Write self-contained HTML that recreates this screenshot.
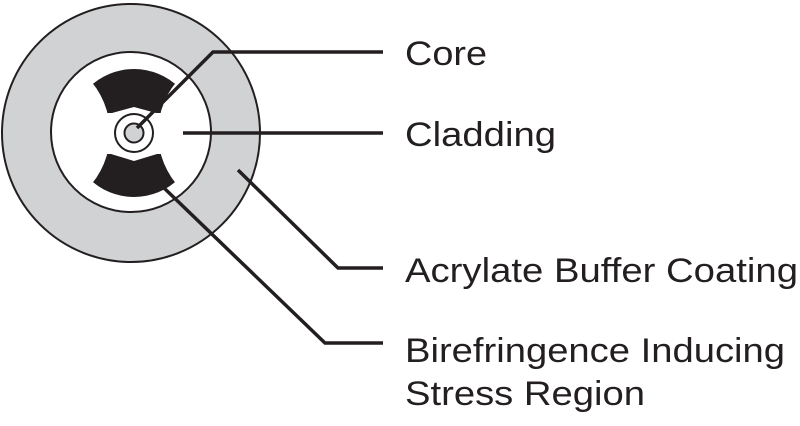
<!DOCTYPE html>
<html><head><style>
html,body{margin:0;padding:0;background:#fff;}
svg{display:block;}
text{font-family:"Liberation Sans",Arial,sans-serif;font-size:34px;fill:#231f20;}
</style></head><body>
<svg width="800" height="426" viewBox="0 0 800 426" xmlns="http://www.w3.org/2000/svg">
<defs>
<mask id="m">
<rect width="800" height="426" fill="#fff"/>
<circle cx="30" cy="133" r="80" fill="#000"/>
<circle cx="238" cy="133" r="80" fill="#000"/>
<polygon points="95,113 112,113 134,107 156,113 175,113 175,154 157,154 134,161 111,154 95,154" fill="#000"/>
</mask>
</defs>
<circle cx="131" cy="133" r="129" fill="#d1d2d4" stroke="#231f20" stroke-width="2"/>
<circle cx="131" cy="132" r="80" fill="#fff" stroke="#231f20" stroke-width="2"/>
<circle cx="134" cy="133" r="64" fill="#231f20" mask="url(#m)"/>
<circle cx="134" cy="133" r="19" fill="#fff" stroke="#231f20" stroke-width="2"/>
<circle cx="134" cy="133" r="9.5" fill="#d1d2d4" stroke="#231f20" stroke-width="2"/>
<g stroke="#231f20" stroke-width="3.5" fill="none">
<polyline points="137,128 213,52 383,52"/>
<polyline points="183,133 383,133"/>
<polyline points="238,170 338,268 383,268"/>
<polyline points="163,187 325,343 383,343"/>
</g>
<text x="405" y="65" textLength="82" lengthAdjust="spacingAndGlyphs">Core</text>
<text x="405" y="146" textLength="151" lengthAdjust="spacingAndGlyphs">Cladding</text>
<text x="405" y="282" textLength="393" lengthAdjust="spacingAndGlyphs">Acrylate Buffer Coating</text>
<text x="405" y="362" textLength="380" lengthAdjust="spacingAndGlyphs">Birefringence Inducing</text>
<text x="405" y="405" textLength="240" lengthAdjust="spacingAndGlyphs">Stress Region</text>
</svg>
</body></html>
